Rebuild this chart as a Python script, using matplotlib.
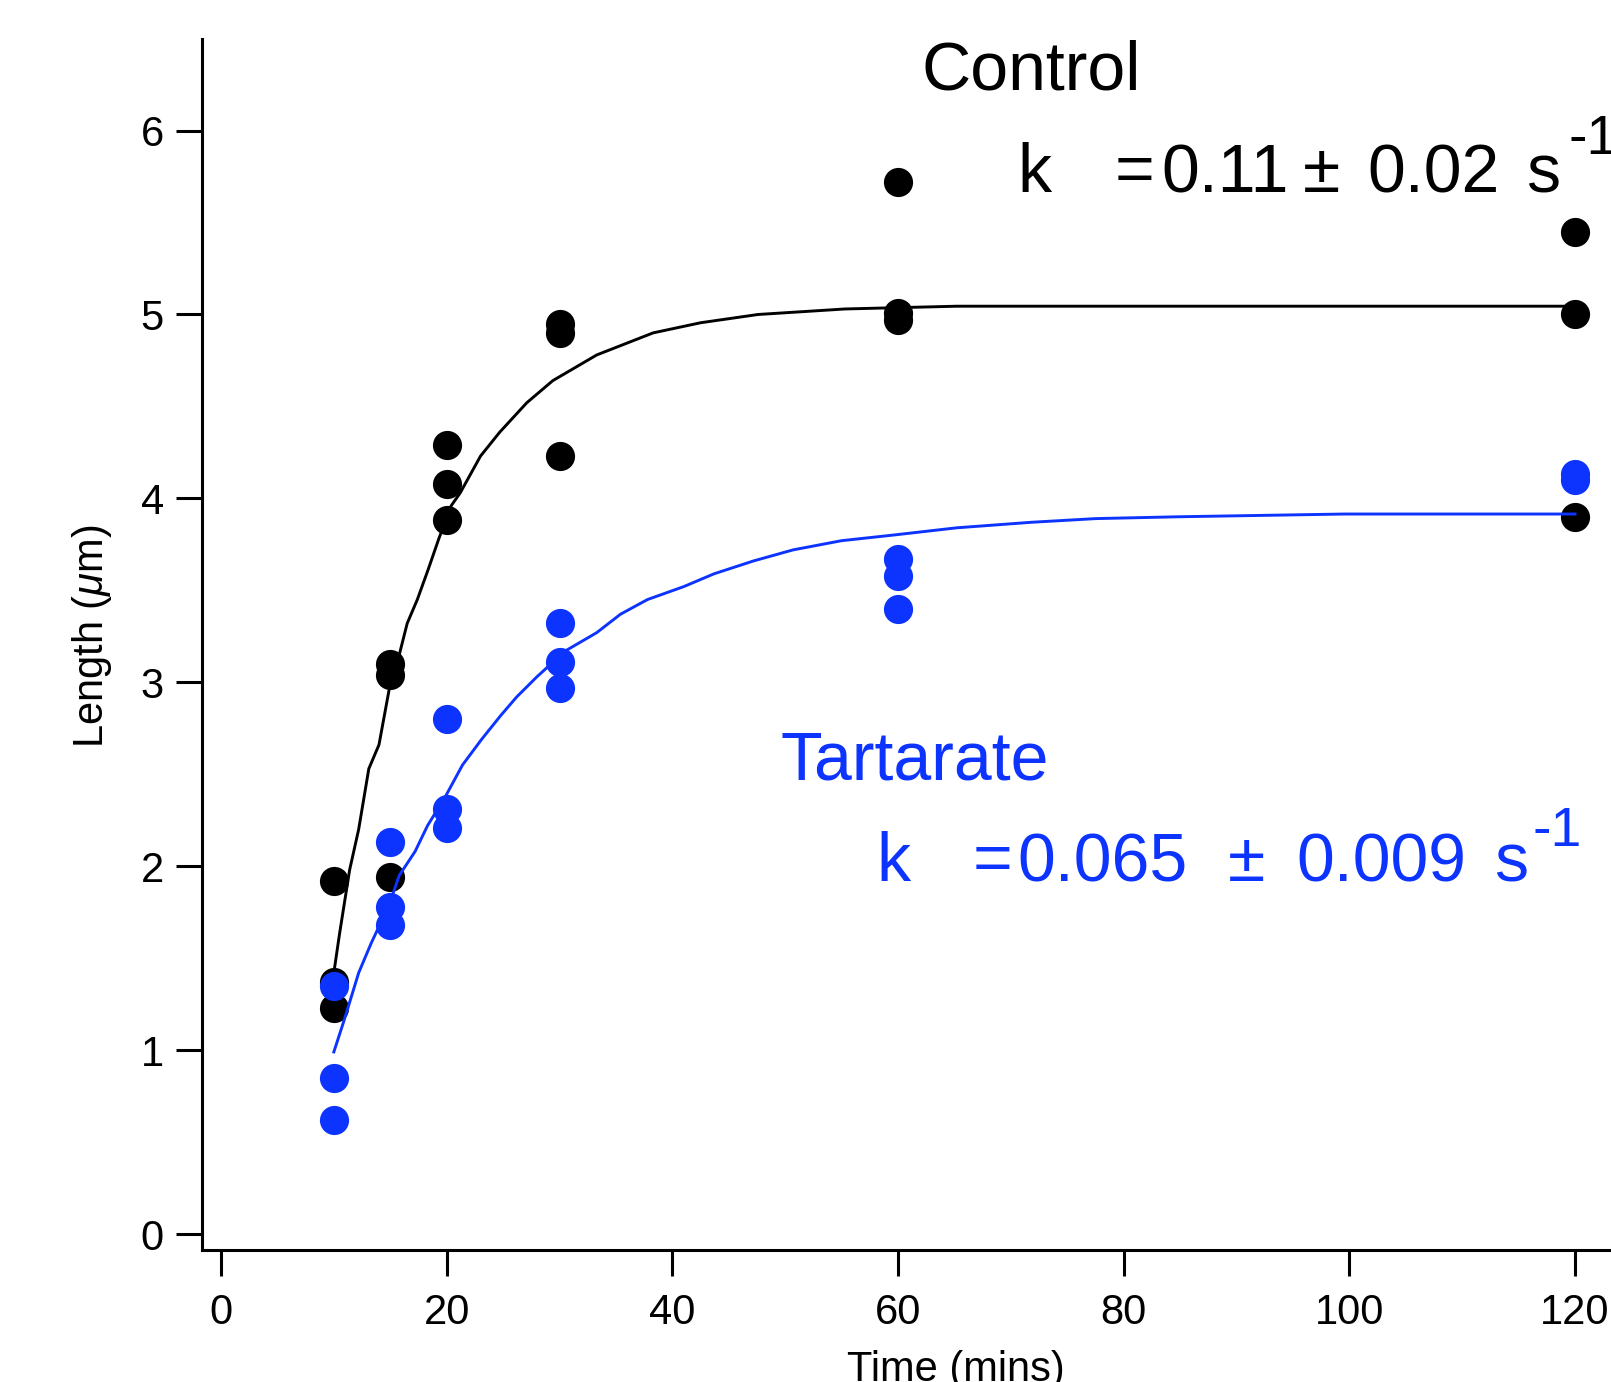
import numpy as np
import matplotlib
matplotlib.use('Agg')
import matplotlib.pyplot as plt

plt.rcParams['font.family'] = ['Liberation Sans', 'DejaVu Sans']
plt.rcParams['mathtext.fontset'] = 'custom'
plt.rcParams['mathtext.rm'] = 'Liberation Sans'
plt.rcParams['mathtext.it'] = 'Liberation Sans:italic'

blue = '#0d33ff'

# measured points (time in mins, length in um)
control_t = [10, 10, 10, 15, 15, 15, 20, 20, 20, 30, 30, 30, 60, 60, 60, 120, 120, 120]
control_len = [1.92, 1.37, 1.23, 3.10, 3.04, 1.94, 4.29, 4.08, 3.88,
               4.95, 4.90, 4.23, 5.72, 5.01, 4.97, 5.45, 5.00, 3.90]

tart_t = [10, 10, 10, 15, 15, 15, 20, 20, 20, 30, 30, 30, 60, 60, 60, 120, 120]
tart_len = [1.35, 0.85, 0.62, 2.13, 1.78, 1.68, 2.80, 2.31, 2.21,
            3.32, 3.11, 2.97, 3.67, 3.58, 3.40, 4.13, 4.10]

# fitted curves
control_fit_t = [10.0, 10.5, 11.4, 12.2, 13.1, 14.0, 14.9, 15.8, 16.5, 17.4, 18.4,
                 19.3, 20.4, 21.2, 23.0, 24.7, 27.1, 29.4, 33.3, 38.3, 42.5, 47.6,
                 55.3, 65.2, 120.0]
control_fit = [1.42, 1.63, 1.98, 2.20, 2.53, 2.66, 2.96, 3.15, 3.32, 3.45, 3.62,
               3.78, 3.96, 4.03, 4.23, 4.36, 4.52, 4.64, 4.78, 4.90, 4.955, 5.00,
               5.03, 5.045, 5.045]

tart_fit_t = [10.0, 10.9, 12.2, 13.3, 14.9, 15.8, 17.2, 18.3, 19.9, 21.4, 23.1, 24.8,
              26.2, 28.0, 30.5, 33.3, 35.4, 37.8, 41.0, 43.7, 47.2, 50.7, 55.0,
              59.5, 65.2, 71.8, 77.5, 84.8, 99.6, 120.0]
tart_fit = [0.99, 1.16, 1.42, 1.58, 1.79, 1.95, 2.08, 2.22, 2.38, 2.55, 2.69, 2.82,
            2.92, 3.03, 3.17, 3.27, 3.37, 3.45, 3.52, 3.59, 3.66, 3.72, 3.77,
            3.80, 3.84, 3.87, 3.89, 3.90, 3.915, 3.915]

x_ticks = [0, 20, 40, 60, 80, 100, 120]
y_ticks = [0, 1, 2, 3, 4, 5, 6]

fig = plt.figure(figsize=(16.11, 13.82), dpi=100)
ax = fig.add_axes([202 / 1611, 1 - 1250 / 1382, 1 - 202 / 1611, (1250 - 39) / 1382])

ax.plot(control_t, control_len, 'o', color='black', ms=21, mew=0, clip_on=False)
ax.plot(control_fit_t, control_fit, '-', color='black', lw=2.1)
ax.plot(tart_t, tart_len, 'o', color=blue, ms=21, mew=0, clip_on=False)
ax.plot(tart_fit_t, tart_fit, '-', color=blue, lw=2.1)

ax.set_xlim(-1.684, 123.19)
ax.set_ylim(-0.087, 6.498)
ax.set_xticks(x_ticks)
ax.set_yticks(y_ticks)

for s in ['top', 'right']:
    ax.spines[s].set_visible(False)
for s in ['left', 'bottom']:
    ax.spines[s].set_linewidth(2.2)
ax.tick_params(direction='out', length=18.5, width=2.2, labelsize=30)
ax.tick_params(axis='x', pad=12.5)
ax.tick_params(axis='y', pad=9)

fig.text(92 / 1611, 1 - 636 / 1382, r'Length ($\mu$m)', rotation=90,
         ha='center', va='center', fontsize=30)
fig.text(956 / 1611, 1 - 1381 / 1382, 'Time (mins)', ha='center', va='baseline',
         fontsize=30)


def put_pieces(xs, y, pieces, color):
    for x, txt in zip(xs, pieces):
        ax.text(x, y, txt, fontsize=49, va='baseline', ha='left', color=color)


# annotations
ax.text(62.1, 6.224, 'Control', fontsize=49, va='baseline', ha='left')
put_pieces([70.55, 79.2, 83.3, 95.87, 101.6, 115.7], 5.666,
           ['k', '=', '0.11', '\u00b1', '0.02', 's'], 'black')
ax.text(119.45, 6.09, '-1', fontsize=40, va='top', ha='left', clip_on=False)

ax.text(49.6, 2.474, 'Tartarate', fontsize=49, va='baseline', ha='left', color=blue)
put_pieces([58.05, 66.65, 70.56, 89.23, 95.3, 112.8], 1.917,
           ['k', '=', '0.065', '\u00b1', '0.009', 's'], blue)
ax.text(116.27, 2.33, '-1', fontsize=40, va='top', ha='left', color=blue)

fig.savefig('out.png', dpi=100)
